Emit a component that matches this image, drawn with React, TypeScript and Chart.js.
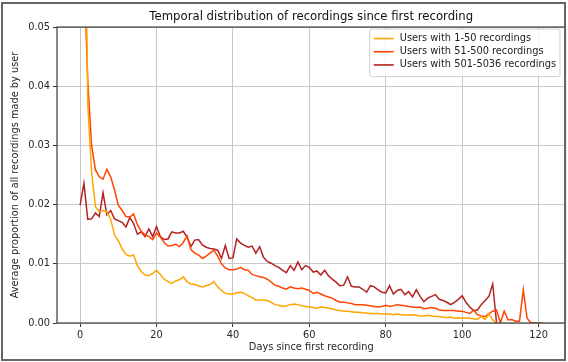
import React, { useEffect, useRef } from "react";
import { Chart, registerables } from "chart.js";

Chart.register(...registerables);

const FONT = '"DejaVu Sans", "Noto Sans", sans-serif';

const chartTitle = "Temporal distribution of recordings since first recording";
const xAxisTitle = "Days since first recording";
const yAxisTitle = "Average proportion of all recordings made by user";
const xTickValues = [0, 20, 40, 60, 80, 100, 120];
const yTickValues = [0, 0.01, 0.02, 0.03, 0.04, 0.05];
const seriesLabels = [
  "Users with 1-50 recordings",
  "Users with 51-500 recordings",
  "Users with 501-5036 recordings",
];
const seriesColors = ["#ffa500", "#ff4500", "#b22222"];

// value per day since first recording (index = day)
const users1to50 = [
  0.25, 0.09, 0.037, 0.0255, 0.0197, 0.0188, 0.019, 0.0188, 0.0175, 0.0149,
  0.0139, 0.0125, 0.0116, 0.0113, 0.0115, 0.0097, 0.0087, 0.0081, 0.008, 0.0084,
  0.0089, 0.0082, 0.0074, 0.007, 0.0067, 0.0071, 0.0073, 0.0078, 0.007, 0.0066,
  0.0065, 0.0063, 0.0061, 0.0063, 0.0065, 0.007, 0.0061, 0.0055, 0.005, 0.0049,
  0.0049, 0.0051, 0.0052, 0.005, 0.0046, 0.0043, 0.0039, 0.0039, 0.0039, 0.0038,
  0.0035, 0.0031, 0.003, 0.0028, 0.0029, 0.0031, 0.0032, 0.0031, 0.0029, 0.0028,
  0.0027, 0.0026, 0.0025, 0.0027, 0.0026, 0.0025, 0.0024, 0.0022, 0.0021, 0.002,
  0.002, 0.0019, 0.0018, 0.0018, 0.0017, 0.0017, 0.0016, 0.0016, 0.0016, 0.0015,
  0.0015, 0.0015, 0.0014, 0.0015, 0.0014, 0.0014, 0.0013, 0.0014, 0.0013, 0.0012,
  0.0012, 0.0013, 0.0012, 0.0011, 0.0011, 0.001, 0.0009, 0.001, 0.0008, 0.0009,
  0.0008, 0.0009, 0.0008, 0.0007, 0.0006, 0.0011, 0.0006, 0.0015, 0.0005, 0,
];

const users51to500 = [
  0.18, 0.06, 0.041, 0.03, 0.0259, 0.0247, 0.0243, 0.026, 0.0247, 0.0225,
  0.0199, 0.019, 0.018, 0.0179, 0.0184, 0.0166, 0.0155, 0.0149, 0.0146, 0.0141,
  0.0152, 0.0145, 0.0136, 0.013, 0.0131, 0.0133, 0.0129, 0.0136, 0.0147, 0.0124,
  0.0118, 0.0115, 0.0109, 0.0113, 0.0118, 0.0123, 0.0113, 0.01, 0.0093, 0.009,
  0.009, 0.0091, 0.0094, 0.009, 0.0089, 0.0082, 0.008, 0.0078, 0.0077, 0.0074,
  0.0069, 0.0064, 0.0062, 0.0059, 0.0057, 0.0061, 0.0059, 0.0058, 0.0059, 0.0057,
  0.0055, 0.005, 0.0052, 0.0049, 0.0046, 0.0044, 0.0042, 0.0038, 0.0035, 0.0035,
  0.0034, 0.0033, 0.0031, 0.0031, 0.0031, 0.003, 0.0029, 0.0028, 0.0027, 0.0028,
  0.003, 0.0028, 0.0029, 0.0031, 0.003, 0.0029, 0.0028, 0.0027, 0.0026, 0.0027,
  0.0024, 0.0025, 0.0026, 0.0025, 0.0022, 0.0021, 0.0021, 0.0021, 0.0021, 0.002,
  0.002, 0.0018, 0.0016, 0.0022, 0.0014, 0.0012, 0.0011, 0.0016, 0.002, 0.0022,
  0, 0.002, 0.0005, 0.0006, 0.0003, 0.0003, 0.0056, 0.0008, 0, 0,
  0, 0,
];

const users501to5036 = [
  0.0199, 0.0236, 0.0175, 0.0176, 0.0186, 0.018, 0.022, 0.0183, 0.019, 0.0176,
  0.0173, 0.017, 0.0162, 0.0178, 0.0168, 0.015, 0.0154, 0.0146, 0.0159, 0.0146,
  0.0163, 0.0146, 0.0141, 0.0142, 0.0154, 0.0152, 0.0152, 0.0155, 0.0145, 0.0129,
  0.014, 0.0141, 0.0132, 0.0128, 0.0126, 0.0125, 0.0123, 0.0109, 0.0131, 0.0109,
  0.011, 0.0142, 0.0135, 0.0131, 0.0128, 0.013, 0.0118, 0.0129, 0.0111, 0.0104,
  0.0101, 0.0097, 0.0094, 0.0089, 0.0085, 0.0097, 0.0089, 0.0103, 0.009, 0.0097,
  0.0094, 0.0086, 0.0088, 0.0081, 0.0089, 0.008, 0.0074, 0.0069, 0.0063, 0.0064,
  0.0078, 0.0062, 0.0061, 0.0061, 0.0057, 0.0052, 0.0063, 0.0061, 0.0056, 0.0052,
  0.0051, 0.0063, 0.0049, 0.0055, 0.0057, 0.0048, 0.0053, 0.0044, 0.0056, 0.0045,
  0.0036, 0.0042, 0.0045, 0.0048, 0.004, 0.0038, 0.0035, 0.0031, 0.0035, 0.004,
  0.0046, 0.0035, 0.0027, 0.0021, 0.0022, 0.0031, 0.0038, 0.0045, 0.0066, 0,
];

const allSeries = [users1to50, users51to500, users501to5036];

const framePlugin = {
  id: "frame",
  afterDatasetsDraw(chart: any) {
    const { ctx, chartArea } = chart;
    ctx.save();
    ctx.strokeStyle = "#3a3a3a";
    ctx.lineWidth = 1.2;
    ctx.strokeRect(
      chartArea.left,
      chartArea.top,
      chartArea.right - chartArea.left,
      chartArea.bottom - chartArea.top
    );
    ctx.restore();
  },
};

const insideLegendPlugin = {
  id: "insideLegend",
  afterDraw(chart: any) {
    const { ctx, chartArea } = chart;
    ctx.save();
    ctx.font = `9.8px ${FONT}`;
    const maxW = Math.max(...seriesLabels.map((t) => ctx.measureText(t).width));
    const boxW = 30 + maxW + 4;
    const rowH = 13.2;
    const boxH = 6 + rowH * seriesLabels.length + 2;
    const x0 = chartArea.right - 5.5 - boxW;
    const y0 = chartArea.top + 2;
    const r = 2;
    ctx.beginPath();
    ctx.moveTo(x0 + r, y0);
    ctx.lineTo(x0 + boxW - r, y0);
    ctx.quadraticCurveTo(x0 + boxW, y0, x0 + boxW, y0 + r);
    ctx.lineTo(x0 + boxW, y0 + boxH - r);
    ctx.quadraticCurveTo(x0 + boxW, y0 + boxH, x0 + boxW - r, y0 + boxH);
    ctx.lineTo(x0 + r, y0 + boxH);
    ctx.quadraticCurveTo(x0, y0 + boxH, x0, y0 + boxH - r);
    ctx.lineTo(x0, y0 + r);
    ctx.quadraticCurveTo(x0, y0, x0 + r, y0);
    ctx.closePath();
    ctx.fillStyle = "rgba(255,255,255,0.8)";
    ctx.fill();
    ctx.strokeStyle = "#d0d0d0";
    ctx.lineWidth = 1;
    ctx.stroke();
    ctx.textBaseline = "middle";
    ctx.textAlign = "left";
    seriesLabels.forEach((label, i) => {
      const cy = y0 + 9.5 + i * rowH;
      ctx.strokeStyle = seriesColors[i];
      ctx.lineWidth = 1.6;
      ctx.beginPath();
      ctx.moveTo(x0 + 4, cy);
      ctx.lineTo(x0 + 24, cy);
      ctx.stroke();
      ctx.fillStyle = "#222";
      ctx.fillText(label, x0 + 30, cy);
    });
    ctx.restore();
  },
};

export default function App() {
  const canvasRef = useRef<HTMLCanvasElement | null>(null);

  useEffect(() => {
    const canvas = canvasRef.current;
    if (!canvas) return;
    const chart = new Chart(canvas, {
      type: "line",
      data: {
        datasets: allSeries.map((values, s) => ({
          label: seriesLabels[s],
          data: values.map((v, day) => ({ x: day, y: v })),
          borderColor: seriesColors[s],
          backgroundColor: seriesColors[s],
          borderWidth: 1.5,
          pointRadius: 0,
          tension: 0,
          fill: false,
        })),
      },
      options: {
        responsive: false,
        animation: false,
        devicePixelRatio: 1,
        layout: { padding: { left: 0, right: 2.5, top: 0, bottom: 0 } },
        plugins: {
          legend: { display: false },
          tooltip: { enabled: false },
          title: {
            display: true,
            text: chartTitle,
            fullSize: false,
            color: "#111",
            font: { family: FONT, size: 11.7, weight: "normal" },
            padding: { top: 10, bottom: 3 },
          },
        },
        scales: {
          x: {
            type: "linear",
            min: -6.05,
            max: 127.05,
            afterBuildTicks: (scale: any) => {
              scale.ticks = xTickValues.map((v) => ({ value: v }));
            },
            afterFit: (scale: any) => {
              scale.height = 39;
            },
            ticks: {
              autoSkip: false,
              maxRotation: 0,
              padding: 2.5,
              color: "#262626",
              font: { family: FONT, size: 9.8 },
              callback: (v: any) => String(v),
            },
            grid: {
              color: "#c8c8c8",
              lineWidth: 1,
              drawTicks: true,
              tickLength: 4,
              tickColor: "#333",
            },
            border: { display: false },
            title: {
              display: true,
              text: xAxisTitle,
              color: "#262626",
              font: { family: FONT, size: 9.8 },
              padding: { top: 0, bottom: 9 },
            },
          },
          y: {
            type: "linear",
            min: 0,
            max: 0.05,
            afterBuildTicks: (scale: any) => {
              scale.ticks = yTickValues.map((v) => ({ value: v }));
            },
            afterFit: (scale: any) => {
              scale.width = 57;
            },
            ticks: {
              padding: 3,
              color: "#262626",
              font: { family: FONT, size: 9.8 },
              callback: (v: any) => Number(v).toFixed(2),
            },
            grid: {
              color: "#c8c8c8",
              lineWidth: 1,
              drawTicks: true,
              tickLength: 4,
              tickColor: "#333",
            },
            border: { display: false },
            title: {
              display: true,
              text: yAxisTitle,
              color: "#262626",
              font: { family: FONT, size: 9.8 },
              padding: { top: 10, bottom: 0 },
            },
          },
        },
      },
      plugins: [framePlugin, insideLegendPlugin],
    } as any);
    return () => chart.destroy();
  }, []);

  return (
    <div
      style={{
        position: "fixed",
        left: 0,
        top: 0,
        width: 568,
        height: 362,
        background: "#fff",
        overflow: "hidden",
      }}
    >
      <canvas
        ref={canvasRef}
        width={568}
        height={362}
        style={{ position: "absolute", left: 0, top: 0, width: 568, height: 362 }}
      />
      <div
        style={{
          position: "absolute",
          left: 1,
          top: 2,
          width: 565,
          height: 359,
          boxSizing: "border-box",
          border: "2px solid #666",
          pointerEvents: "none",
        }}
      />
    </div>
  );
}
